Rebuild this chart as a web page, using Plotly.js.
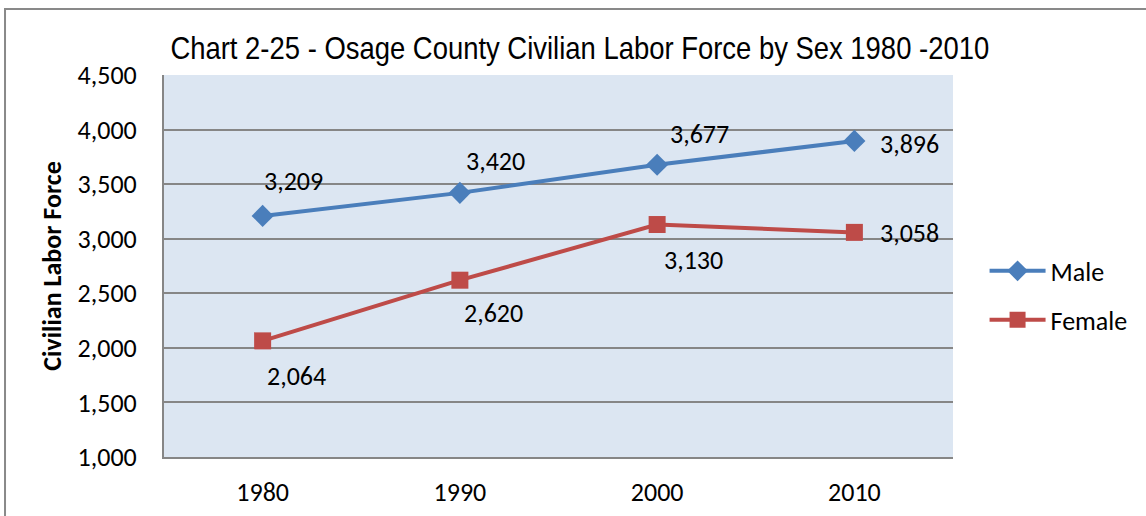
<!DOCTYPE html>
<html>
<head>
<meta charset="utf-8">
<script src="https://cdn.plot.ly/plotly-3.0.1.min.js"></script>
<style>
html,body{margin:0;padding:0;background:#fff;}
#chart{width:1146px;height:516px;}
</style>
</head>
<body>
<div id="chart"></div>
<script>
var years = ["1980", "1990", "2000", "2010"];
var male = [3209, 3420, 3677, 3896];
var female = [2064, 2620, 3130, 3058];
var maleLabelShift = [[31, 35], [36, 32], [42, 31], [55, -3]];
var femaleLabelShift = [[34, -35], [34, -33], [36, -35], [55, -1]];

var FONT = "Carlito, Lato, 'Open Sans', sans-serif";

var traces = [
  {
    x: years, y: male, name: "Male", type: "scatter", mode: "lines+markers",
    line: {color: "#4A7EBB", width: 4},
    marker: {symbol: "diamond", size: 17, color: "#4A7EBB"},
    legend: "legend"
  },
  {
    x: years, y: female, name: "Female", type: "scatter", mode: "lines+markers",
    line: {color: "#BE4B48", width: 4},
    marker: {symbol: "square", size: 17, color: "#BE4B48"},
    legend: "legend2"
  }
];

function fmt(v){ return String(v).replace(/\B(?=(\d{3})+(?!\d))/g, ","); }
var annotations = [];
function addLabels(vals, shifts) {
  for (var i = 0; i < vals.length; i++) {
    annotations.push({
      x: i, y: vals[i], xref: "x", yref: "y",
      text: fmt(vals[i]),
      showarrow: false, xshift: shifts[i][0], yshift: shifts[i][1],
      font: {family: FONT, size: 26, color: "#000000"}
    });
  }
}
addLabels(male, maleLabelShift);
addLabels(female, femaleLabelShift);

var layout = {
  width: 1146, height: 516,
  margin: {l: 164, r: 193, t: 75, b: 59},
  paper_bgcolor: "#ffffff",
  plot_bgcolor: "#DCE6F2",
  showlegend: true,
  title: {
    text: "Chart 2-25 - Osage County Civilian Labor Force by Sex 1980 -2010",
    font: {family: "'Liberation Sans', Arial, sans-serif", size: 31, color: "#000"},
    x: 0.527, xanchor: "center", xref: "paper",
    y: 0.906, yanchor: "middle"
  },
  xaxis: {
    type: "category",
    range: [-0.5, 3.5],
    showgrid: false, zeroline: false,
    showline: true, linecolor: "#868686", linewidth: 2,
    ticks: "", ticklabelstandoff: 11,
    tickfont: {family: FONT, size: 26, color: "#000"},
    fixedrange: true
  },
  yaxis: {
    range: [1000, 4500], dtick: 500, tick0: 1000,
    tickformat: ",d",
    showgrid: true, gridcolor: "#868686", gridwidth: 2,
    zeroline: false,
    showline: true, linecolor: "#868686", linewidth: 2,
    ticks: "", ticklabelstandoff: 20,
    tickfont: {family: FONT, size: 26, color: "#000"},
    title: {
      text: "<b>Civilian Labor Force</b>",
      font: {family: FONT, size: 26, color: "#000"},
      standoff: 8
    },
    fixedrange: true
  },
  legend: {
    x: 1.04, y: 0.487, xanchor: "left", yanchor: "middle",
    bgcolor: "rgba(0,0,0,0)", itemwidth: 56,
    font: {family: FONT, size: 26, color: "#000"}
  },
  legend2: {
    x: 1.04, y: 0.359, xanchor: "left", yanchor: "middle",
    bgcolor: "rgba(0,0,0,0)", itemwidth: 56,
    font: {family: FONT, size: 26, color: "#000"}
  },
  annotations: annotations,
  shapes: [{
    type: "rect", xref: "paper", yref: "paper",
    x0: -0.2015, x1: 2, y0: -1, y1: 1.173,
    line: {color: "#898989", width: 2}, fillcolor: "rgba(0,0,0,0)",
    layer: "above"
  }]
};

Plotly.newPlot("chart", traces, layout, {displayModeBar: false, staticPlot: true}).then(function(gd){
  var t = gd.querySelector('.g-gtitle');
  if (t) {
    var bb = t.getBBox();
    var cx = bb.x + bb.width / 2;
    t.setAttribute('transform', 'translate(' + cx + ',0) scale(0.885,1) translate(' + (-cx) + ',0)');
  }
});
</script>
</body>
</html>
